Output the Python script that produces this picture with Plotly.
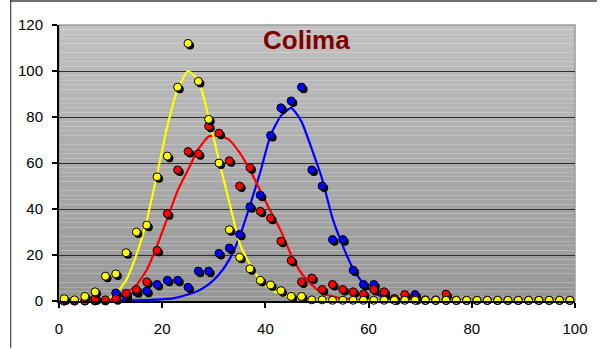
import plotly.graph_objects as go

# Sampling positions (every 2 units across the range)
x_vals = list(range(1, 100, 2))

# Observed counts per series
yellow_obs = [1, 0.5, 2, 4, 10.8, 11.8, 21, 30, 33, 54, 63, 93, 112,
              95.5, 79, 60, 31, 19, 14, 9, 7, 4.5, 2, 2, 0.5, 0.5,
              0.3, 0.3, 0.3, 0.3, 0.3, 0.3, 0.3, 0.3, 0.3, 0.3, 0.3, 0.3,
              0.3, 0.3, 0.3, 0.3, 0.3, 0.3, 0.3, 0.3, 0.3, 0.3, 0.3, 0.3]
red_obs = [0, 0, 0, 1, 0.5, 1, 3.3, 5, 8.3, 22, 38, 57, 65,
           64, 76, 73, 61, 50, 58, 39, 36, 26, 17.6, 8.3, 10, 5,
           7.2, 5, 4, 3, 5, 4, 1, 2.8, 1, 0.5, 0.5, 3, 0.3, 0.3,
           0.3, 0.3, 0.3, 0.3, 0.3, 0.3, 0.3, 0.3, 0.3, 0.3]
blue_obs = [0, 0, 0, 0, 0, 3.5, 2, 4, 4.3, 7.2, 9, 9, 6,
            13, 13, 20.7, 23, 29, 41, 46, 72, 84, 87, 93, 57, 50,
            26.7, 26.7, 13.4, 7.2, 7.2, 3, 1, 0.5, 2.8, 0.2, 0.2, 0.2, 0.2, 0.2,
            0.2, 0.2, 0.2, 0.2, 0.2, 0.2, 0.2, 0.2, 0.2, 0.2]

# Fitted curves per series
yellow_fit = [0, 0, 0, 0.1, 0.5, 3, 9, 20, 35, 55, 76, 92, 100,
              96, 80, 61, 43, 25, 16, 9, 5, 3, 1.5, 0.8, 0.4, 0.2,
              0, 0, 0, 0, 0, 0, 0, 0, 0, 0, 0, 0, 0, 0,
              0, 0, 0, 0, 0, 0, 0, 0, 0, 0]
red_fit = [0, 0, 0, 0, 0.3, 1.2, 3.5, 7, 13.5, 24, 36, 48, 57,
           66, 71.5, 72, 70, 64.5, 57, 48, 39, 30.5, 20, 12, 7, 3.5,
           2, 1, 0.5, 0.2, 0, 0, 0, 0, 0, 0, 0, 0, 0, 0,
           0, 0, 0, 0, 0, 0, 0, 0, 0, 0]
blue_fit = [0, 0, 0, 0, 0, 0.1, 0.2, 0.3, 0.4, 0.6, 0.9, 1.6, 2.8,
            4.5, 7.2, 11.5, 18, 28, 41.5, 56, 72, 80.5, 84, 78, 66, 53,
            36, 24, 14, 7.5, 3.8, 1.5, 0.6, 0.2, 0, 0, 0, 0, 0, 0,
            0, 0, 0, 0, 0, 0, 0, 0, 0, 0]

x_ticks = [0, 20, 40, 60, 80, 100]
y_ticks = [0, 20, 40, 60, 80, 100, 120]

series = [
    ("blue", "#0000ff", blue_obs, blue_fit),
    ("red", "#ff0000", red_obs, red_fit),
    ("yellow", "#ffff00", yellow_obs, yellow_fit),
]

fig = go.Figure()

# fitted curves
for name, col, obs, fit in series:
    fig.add_trace(go.Scatter(
        x=x_vals, y=fit, mode="lines", name=name + " fit",
        line=dict(color=col, width=2.2, shape="spline", smoothing=0.5),
        hoverinfo="skip", showlegend=False, cliponaxis=True))

# drop-shadow offset for markers, in axis units (~2 px)
dx, dy = 0.4, -0.9
for name, col, obs, fit in series:
    fig.add_trace(go.Scatter(
        x=[v + dx for v in x_vals], y=[v + dy for v in obs], mode="markers",
        marker=dict(color="#000000", size=8, symbol="circle"),
        hoverinfo="skip", showlegend=False, cliponaxis=False))
    fig.add_trace(go.Scatter(
        x=x_vals, y=obs, mode="markers", name=name,
        marker=dict(color=col, size=8, symbol="circle",
                    line=dict(color="#000000", width=1)),
        showlegend=False, cliponaxis=False))

# vertical gradient of the plotting area
shapes = []
n_bands = 60
top_c, bot_c = 193, 150
for i in range(n_bands):
    t = (i + 0.5) / n_bands
    c = round(top_c + (bot_c - top_c) * t)
    shapes.append(dict(
        type="rect", xref="x domain", yref="y domain",
        x0=0, x1=1, y0=1 - (i + 1) / n_bands, y1=1 - i / n_bands,
        fillcolor=f"rgb({c},{c},{c})", line=dict(width=0), layer="below"))
# plot area frame
shapes.append(dict(type="rect", xref="x domain", yref="y domain",
                   x0=0, x1=1, y0=0, y1=1,
                   line=dict(color="#9c9c9c", width=1.5), layer="below"))

# outer chart frame (top and left edges)
L, R, T, B = 59, 22, 25, 47
W, H = 600, 349
pw, ph = W - L - R, H - T - B
px2x = lambda p: (p - L) / pw
py2y = lambda p: (H - B - p) / ph
shapes.append(dict(type="line", xref="paper", yref="paper",
                   x0=px2x(10), x1=px2x(600), y0=py2y(1), y1=py2y(1),
                   line=dict(color="#707070", width=2)))
shapes.append(dict(type="line", xref="paper", yref="paper",
                   x0=px2x(10.5), x1=px2x(10.5), y0=py2y(0), y1=py2y(349),
                   line=dict(color="#202020", width=1)))

fig.update_layout(
    width=W, height=H,
    margin=dict(l=L, r=R, t=T, b=B, pad=0),
    paper_bgcolor="#ffffff",
    plot_bgcolor="rgba(0,0,0,0)",
    shapes=shapes,
    font=dict(family="Liberation Sans, Arial, sans-serif", size=15, color="#000000"),
    annotations=[dict(
        text="<b>Colima</b>", xref="x domain", yref="y domain",
        x=0.48, y=0.945, xanchor="center", yanchor="middle",
        showarrow=False,
        font=dict(family="Liberation Sans, Arial, sans-serif", size=26, color="#800000"))],
    xaxis=dict(range=[0, 100], tickvals=x_ticks, ticktext=[str(v) for v in x_ticks],
               showgrid=False, zeroline=False,
               showline=True, linecolor="#000000", linewidth=2,
               ticks="outside", ticklen=5, tickwidth=1.5, tickcolor="#000000",
               ticklabelstandoff=8),
    yaxis=dict(range=[0, 120], tickvals=y_ticks, ticktext=[str(v) for v in y_ticks],
               showgrid=True, gridcolor="#2e2e2e", gridwidth=1.2,
               zeroline=False,
               showline=True, linecolor="#000000", linewidth=2,
               ticks="outside", ticklen=5, tickwidth=1.5, tickcolor="#000000",
               ticklabelstandoff=6),
)

fig.write_html("out.html")
